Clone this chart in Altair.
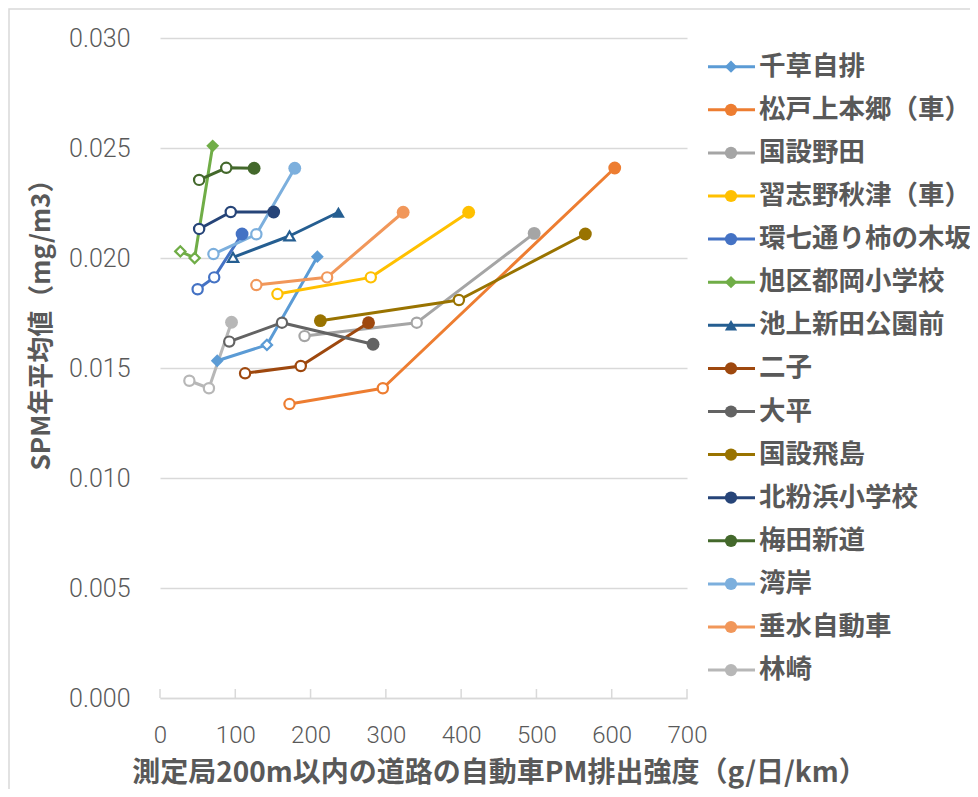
import altair as alt
import pandas as pd

# ---- data ----
names = ["千草自排", "松戸上本郷（車）", "国設野田", "習志野秋津（車）", "環七通り柿の木坂",
         "旭区都岡小学校", "池上新田公園前", "二子", "大平", "国設飛島",
         "北粉浜小学校", "梅田新道", "湾岸", "垂水自動車", "林崎"]

pm_emission = [
    [76, 142, 209],
    [172, 296, 604],
    [192, 341, 497],
    [156, 280, 410],
    [50, 72, 109],
    [27, 46, 70],
    [97, 172, 237],
    [113, 187, 277],
    [92, 162, 283],
    [213, 397, 565],
    [52, 94, 151],
    [52, 88, 125],
    [71, 128, 179],
    [128, 222, 323],
    [39, 65, 95],
]

spm_mean = [
    [0.01533, 0.01605, 0.02006],
    [0.01336, 0.01408, 0.02409],
    [0.01645, 0.01706, 0.02112],
    [0.01836, 0.01912, 0.02208],
    [0.01858, 0.01912, 0.02109],
    [0.02030, 0.02000, 0.02510],
    [0.02003, 0.02100, 0.02208],
    [0.01476, 0.01509, 0.01706],
    [0.01620, 0.01706, 0.01608],
    [0.01715, 0.01809, 0.02109],
    [0.02132, 0.02209, 0.02209],
    [0.02355, 0.02410, 0.02408],
    [0.02018, 0.02108, 0.02408],
    [0.01877, 0.01912, 0.02208],
    [0.01442, 0.01408, 0.01708],
]

marker_filled = [
    [True, False, True],
    [False, False, True],
    [False, False, True],
    [False, False, True],
    [False, False, True],
    [False, False, True],
    [False, False, True],
    [False, False, True],
    [False, False, True],
    [True, False, True],
    [False, False, True],
    [False, False, True],
    [False, False, True],
    [False, False, True],
    [False, False, True],
]

x_ticks = [0, 100, 200, 300, 400, 500, 600, 700]
y_ticks = [0.0, 0.005, 0.010, 0.015, 0.020, 0.025, 0.030]

x_title = "測定局200m以内の道路の自動車PM排出強度（g/日/km）"
y_title = "SPM年平均値（mg/m3）"

# ---- styles ----
colors = ["#5B9BD5", "#ED7D31", "#A5A5A5", "#FFC000", "#4472C4", "#70AD47", "#255E91",
          "#9E480E", "#636363", "#997300", "#264478", "#43682B", "#7CAFDD", "#F1975A", "#B7B7B7"]
shapes = ["diamond", "circle", "circle", "circle", "circle", "diamond", "triangle-up",
          "circle", "circle", "circle", "circle", "circle", "circle", "circle", "circle"]

W, H = 527, 660
GRID = "#D9D9D9"
TXT = "#595959"
JP = "Noto Sans CJK JP"

rows = []
for n, xs, ys, fs in zip(names, pm_emission, spm_mean, marker_filled):
    for i, (xv, yv, fv) in enumerate(zip(xs, ys, fs)):
        rows.append({"name": n, "order": i, "x": xv, "y": yv, "filled": fv})
df = pd.DataFrame(rows)

legend_df = pd.DataFrame({"name": names, "idx": list(range(len(names)))})
tick_df = pd.DataFrame({"x": x_ticks})
frame_df = pd.DataFrame({"k": [0]})

cscale = alt.Scale(domain=names, range=colors)
sscale = alt.Scale(domain=names, range=shapes)
xscale = alt.Scale(domain=[0, 700], nice=False, zero=False)
yscale = alt.Scale(domain=[0, 0.03], nice=False)

x_axis = alt.Axis(
    values=x_ticks, grid=False, ticks=False, tickSize=0, domain=True,
    domainColor=GRID, domainWidth=1.5, labelFont="Roboto", labelFontWeight=300,
    labelFontSize=24, labelColor=TXT, labelPadding=25, labelFlush=False,
    title=x_title, titleFont=JP, titleFontWeight="bold", titleFontSize=28,
    titleColor=TXT, titleX=339, titleY=75, titleAlign="center",
    titleBaseline="middle")
y_axis = alt.Axis(
    values=y_ticks, format=".3f", grid=True, gridColor=GRID, gridWidth=1.3,
    ticks=False, tickSize=0, domain=False, labelFont="Roboto", labelFontWeight=300,
    labelFontSize=25, labelColor=TXT, labelPadding=30,
    title=y_title, titleFont=JP, titleFontWeight="bold", titleFontSize=26,
    titleColor=TXT, titleX=-119, titleY=280, titleAngle=270,
    titleAlign="center", titleBaseline="middle")

x_enc = alt.X("x:Q", scale=xscale, axis=x_axis)
y_enc = alt.Y("y:Q", scale=yscale, axis=y_axis)

frame = alt.Chart(frame_df).mark_rect(fill=None, stroke=GRID, strokeWidth=1.5).encode(
    x=alt.value(-151), x2=alt.value(1200), y=alt.value(-29), y2=alt.value(1200))

inner_ticks = alt.Chart(tick_df).mark_rule(color=GRID, strokeWidth=1.5).encode(
    x=alt.X("x:Q", scale=xscale, axis=x_axis), y=alt.value(H), y2=alt.value(H - 9))

lines = alt.Chart(df).mark_line(strokeWidth=3, strokeCap="round", strokeJoin="round").encode(
    x=x_enc, y=y_enc,
    color=alt.Color("name:N", scale=cscale, legend=None),
    order="order:Q")

hollow = alt.Chart(df).transform_filter("!datum.filled").mark_point(
    filled=True, size=105, strokeWidth=2.2, opacity=1).encode(
    x=x_enc, y=y_enc,
    shape=alt.Shape("name:N", scale=sscale, legend=None),
    fill=alt.value("white"),
    stroke=alt.Stroke("name:N", scale=cscale, legend=None))

solid = alt.Chart(df).transform_filter("datum.filled").mark_point(
    filled=True, size=165, opacity=1).encode(
    x=x_enc, y=y_enc,
    shape=alt.Shape("name:N", scale=sscale, legend=None),
    color=alt.Color("name:N", scale=cscale, legend=None))

data_group = alt.layer(inner_ticks, lines, hollow, solid)

ly = alt.Y("idx:Q", scale=alt.Scale(domain=[0, len(names) - 1], range=[28.7, 632.1]), axis=None)

leg_rule = alt.Chart(legend_df).mark_rule(strokeWidth=3).encode(
    x=alt.value(548), x2=alt.value(595), y=ly,
    color=alt.Color("name:N", scale=cscale, legend=None))
leg_pt = alt.Chart(legend_df).mark_point(filled=True, size=150, opacity=1).encode(
    x=alt.value(571), y=ly,
    shape=alt.Shape("name:N", scale=sscale, legend=None),
    color=alt.Color("name:N", scale=cscale, legend=None))
leg_txt = alt.Chart(legend_df).mark_text(
    align="left", baseline="middle", font=JP, fontWeight="bold",
    fontSize=26.5, color=TXT).encode(
    x=alt.value(599), y=ly, text="name:N")

legend_group = alt.layer(leg_rule, leg_pt, leg_txt)

chart = alt.layer(frame, data_group, legend_group).resolve_scale(
    y="independent"
).properties(
    width=W, height=H,
    autosize=alt.AutoSizeParams(type="none"),
    padding={"left": 152, "top": 30, "right": 283, "bottom": 91},
).configure(
    background="white"
).configure_view(
    stroke="transparent", strokeWidth=0
)

chart.save("out.html", embed_options={"renderer": "svg", "actions": False})
